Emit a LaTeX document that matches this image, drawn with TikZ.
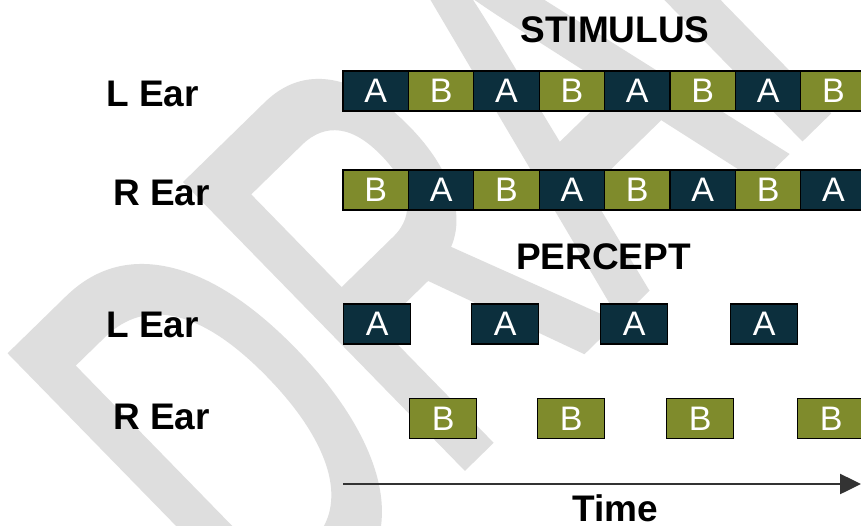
\documentclass[tikz,border=0pt]{standalone}
\usepackage{fontspec}
\setmainfont{Liberation Sans}
\newfontfamily\wmfont[FakeBold=2.5]{Liberation Sans}
\usetikzlibrary{arrows.meta}
\definecolor{navy}{HTML}{0C2F3D}
\definecolor{olive}{HTML}{7F8B2C}
\definecolor{wmgray}{HTML}{DEDEDE}
\definecolor{axisgray}{HTML}{333333}
\begin{document}
\begin{tikzpicture}[x=1pt,y=-1pt,
  lbl/.style={font=\fontsize{37}{37}\selectfont\bfseries, inner sep=0pt, anchor=base west},
  heading/.style={font=\fontsize{37}{37}\selectfont\bfseries, inner sep=0pt, anchor=base},
  cellbox/.style={draw=black, line width=1.3pt, text=white,
    font=\fontsize{34}{34}\selectfont, inner sep=0pt, minimum height=40pt},
  timeaxis/.style={draw=axisgray, line width=2.5pt,
    -{Triangle[length=21pt,width=20pt]}},
]
\useasboundingbox (0,0) rectangle (861,525);
\clip (0,0) rectangle (861,525);
\fill[white] (0,0) rectangle (861,525);

% watermark behind everything
\begin{scope}[shift={(267.5,653.6)}, rotate=44.3, xscale=0.6]
  \node[transform shape, anchor=base west, inner sep=0pt, text=wmgray,
    font=\wmfont\fontsize{566}{566}\selectfont] (wm) at (0,0) {DRAFT};
\end{scope}

% headings
\node[heading] (stim) at (615,42.7) {STIMULUS};
\node[heading] (perc) at (603.5,269.3) {PERCEPT};

% row labels
\node[lbl] (sle) at (106,106) {L Ear};
\node[lbl] (sre) at (113,205) {R Ear};
\node[lbl] (ple) at (106,337) {L Ear};
\node[lbl] (pre) at (113,429) {R Ear};

% stimulus: alternating tones in each ear
\foreach [count=\k] \t/\c in {A/navy,B/olive,A/navy,B/olive,A/navy,B/olive,A/navy,B/olive}
  \node[cellbox, fill=\c, minimum width=65.4pt] (sl\k) at ({343+65.4*(\k-0.5)},91) {\t};
\foreach [count=\k] \t/\c in {B/olive,A/navy,B/olive,A/navy,B/olive,A/navy,B/olive,A/navy}
  \node[cellbox, fill=\c, minimum width=65.4pt] (sr\k) at ({343+65.4*(\k-0.5)},190) {\t};

% percept
\foreach [count=\k] \x in {343,471,600,730}
  \node[cellbox, fill=navy, minimum width=67pt, anchor=west] (pl\k) at (\x,324) {A};
\foreach [count=\k] \x in {409,537,666,797}
  \node[cellbox, fill=olive, minimum width=67pt, anchor=west] (pr\k) at (\x,418.5) {B};

% time axis
\coordinate (t0) at (343,484);
\coordinate (t1) at (861,484);
\draw[timeaxis] (t0) -- (t1);
\node[heading] (time) at (615.5,521.5) {Time};
\end{tikzpicture}
\end{document}
